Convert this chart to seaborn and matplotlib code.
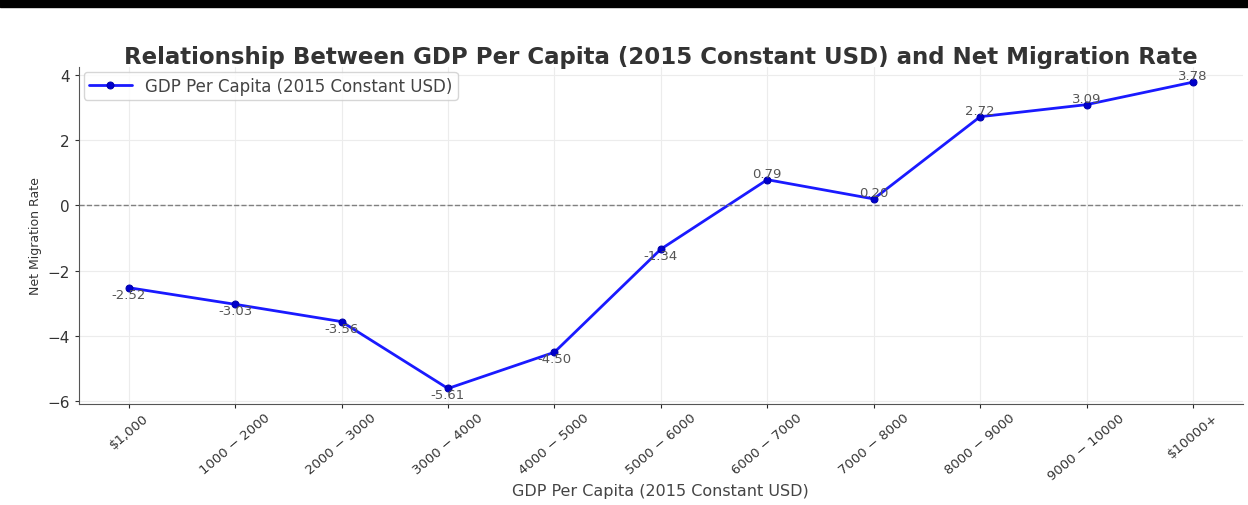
import matplotlib
matplotlib.use('Agg')
import matplotlib.pyplot as plt
import seaborn as sns
import pandas as pd
from matplotlib.patches import Rectangle

# data
gdp_bins = ['$1,000', '1000 \u2212 2000', '2000 \u2212 3000', '3000 \u2212 4000', '4000 \u2212 5000',
            '5000 \u2212 6000', '6000 \u2212 7000', '7000 \u2212 8000', '8000 \u2212 9000',
            '9000 \u2212 10000', '$10000+']
net_migration = [-2.52, -3.03, -3.56, -5.61, -4.50, -1.34, 0.79, 0.20, 2.72, 3.09, 3.78]

df = pd.DataFrame({'bin': gdp_bins, 'rate': net_migration})
df['pos'] = range(len(df))

sns.set_style('whitegrid', {'grid.color': '#ececec', 'axes.edgecolor': '#555555'})
plt.rcParams['font.family'] = ['DejaVu Sans']

fig, ax = plt.subplots(figsize=(12.48, 5.06), dpi=100)
fig.subplots_adjust(left=0.063, right=0.996, top=0.866, bottom=0.2)

# black bar along the top edge of the screenshot
fig.patches.append(Rectangle((0, 0.984), 1, 0.016, transform=fig.transFigure,
                             color='black', zorder=10))

sns.lineplot(x='pos', y='rate', data=df, ax=ax, color='#1a1aff', lw=2,
             marker='o', markersize=5, markeredgecolor='#0000aa', markerfacecolor='#0000cc',
             label='GDP Per Capita (2015 Constant USD)')

for x, y in zip(df['pos'], df['rate']):
    ax.text(x, y, f'{y:.2f}', ha='center', va='bottom' if y > 0 else 'top',
            fontsize=9.5, color='#555555')

ax.axhline(0, color='grey', linestyle='--', lw=1)

ax.set_xticks(df['pos'])
ax.set_xticklabels(gdp_bins, rotation=40, fontsize=9.5, color='#333333')
ax.tick_params(axis='y', labelsize=11, colors='#333333', length=3, left=True)
ax.tick_params(axis='x', length=3, bottom=True, pad=2)
ax.set_yticks([-6, -4, -2, 0, 2, 4])
ax.set_xlim(-0.47, 10.47)

ax.set_title('Relationship Between GDP Per Capita (2015 Constant USD) and Net Migration Rate',
             fontsize=16.5, fontweight='bold', color='#333333', pad=3)
ax.set_xlabel('GDP Per Capita (2015 Constant USD)', fontsize=11.5, color='#444444', labelpad=1)
ax.set_ylabel('Net Migration Rate', fontsize=9, color='#333333')

ax.legend(loc='upper left', fontsize=12, frameon=True, labelcolor='#444444',
          handlelength=2.6, borderaxespad=0.3, borderpad=0.3)
sns.despine(ax=ax)

fig.savefig('out.png', dpi=100)
